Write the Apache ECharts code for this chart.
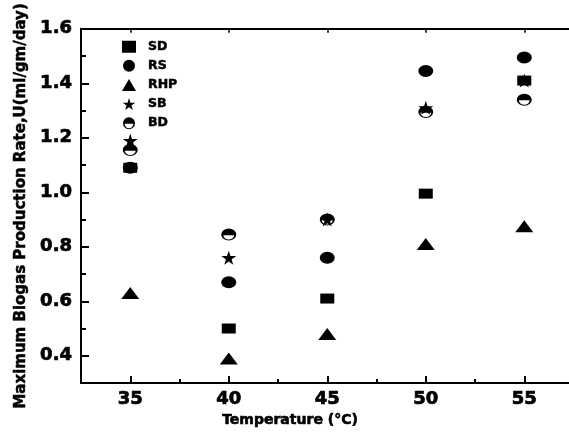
<!DOCTYPE html>
<html>
<head>
<meta charset="utf-8">
<script src="https://cdn.jsdelivr.net/npm/echarts@6/dist/echarts.min.js"></script>
<style>html,body{margin:0;padding:0;background:#fff}#c{width:569px;height:434px}</style>
</head>
<body>
<div id="c"></div>
<script>
const temperatures = [35, 40, 45, 50, 55];
const SD  = [1.09, 0.50, 0.61, 0.995, 1.41];
const RS  = [1.09, 0.67, 0.76, 1.445, 1.495];
const RHP = [0.63, 0.39, 0.48, 0.81, 0.875];
const SB  = [1.19, 0.76, 0.90, 1.31, 1.41];
const BD  = [1.155, 0.845, 0.90, 1.295, 1.34];
const xTicks = [35, 40, 45, 50, 55];
const xMinorTicks = [37.5, 42.5, 47.5, 52.5];
const yTicks = [0.4, 0.6, 0.8, 1.0, 1.2, 1.4, 1.6];
const yMinorTicks = [0.5, 0.7, 0.9, 1.1, 1.3, 1.5];

const FONT = 'DejaVu Sans';
const starPath = 'path://M50,0 L61,35 L98,35 L68,57 L79,91 L50,70 L21,91 L32,57 L2,35 L39,35 Z';
const bdPath = 'path://M0,10 A10,10 0 1,1 20,10 A10,10 0 1,1 0,10 Z M2.8,11.2 A7.2,7.2 0 0,0 17.2,11.2 Z';
const heavy = { textBorderColor: '#000', textBorderWidth: 0.7 };

function pairs(arr) { return temperatures.map((t, i) => [t, arr[i]]); }
function mk(name, data, symbol, size) {
  return { name, type: 'scatter', data: pairs(data), symbol, symbolSize: size,
    itemStyle: { color: '#000', opacity: 1 }, xAxisIndex: 0, yAxisIndex: 0, emphasis: { disabled: true } };
}

const chart = echarts.init(document.getElementById('c'), null, { renderer: 'canvas' });
// the original plot frame runs past the right edge of the picture (axis end clipped)
const xr = { min: 32.5, max: 57.27 };
const yr = { min: 0.3, max: 1.6 };
chart.setOption({
  animation: false,
  backgroundColor: '#fff',
  grid: { left: 81, right: 0, top: 27, height: 356, containLabel: false },
  legend: {
    orient: 'vertical', left: 117, top: 35, itemWidth: 14, itemHeight: 12, itemGap: 5.6,
    textStyle: { fontFamily: FONT, fontWeight: 'bold', fontSize: 12.5, color: '#000', padding: [0, 0, 0, 7], ...heavy, textBorderWidth: 0.5 },
    data: ['SD', 'RS', 'RHP', 'SB', 'BD']
  },
  xAxis: [
    { type: 'value', position: 'bottom', ...xr,
      name: 'Temperature (°C)', nameLocation: 'middle', nameGap: 25,
      nameTextStyle: { fontFamily: FONT, fontWeight: 'bold', fontSize: 14, color: '#000', padding: [0, 70, 0, 0], ...heavy, textBorderWidth: 0.6 },
      axisLine: { show: true, onZero: false, lineStyle: { color: '#000', width: 2 } },
      axisTick: { show: true, inside: true, length: 7, customValues: xTicks, lineStyle: { color: '#000', width: 2 } },
      axisLabel: { show: true, customValues: xTicks, margin: 7, fontFamily: FONT, fontWeight: 'bold', fontSize: 18, color: '#000', ...heavy },
      splitLine: { show: false } },
    { type: 'value', position: 'bottom', ...xr,
      axisLine: { show: false, onZero: false },
      axisTick: { show: true, inside: true, length: 4, customValues: xMinorTicks, lineStyle: { color: '#000', width: 2 } },
      axisLabel: { show: false }, splitLine: { show: false } },
    { type: 'value', position: 'top', ...xr,
      axisLine: { show: true, onZero: false, lineStyle: { color: '#000', width: 2 } },
      axisTick: { show: true, inside: true, length: 4, customValues: xTicks, lineStyle: { color: '#000', width: 1.5 } },
      axisLabel: { show: false }, splitLine: { show: false } }
  ],
  yAxis: [
    { type: 'value', position: 'left', ...yr,
      name: 'Maximum Biogas Production Rate,U(ml/gm/day)', nameLocation: 'middle', nameGap: 52,
      nameTextStyle: { fontFamily: FONT, fontWeight: 'bold', fontSize: 15, color: '#000', ...heavy, textBorderWidth: 0.5 },
      axisLine: { show: true, onZero: false, lineStyle: { color: '#000', width: 2 } },
      axisTick: { show: true, inside: true, length: 8, customValues: yTicks, lineStyle: { color: '#000', width: 2 } },
      axisLabel: { show: true, customValues: yTicks, margin: 9, fontFamily: FONT, fontWeight: 'bold', fontSize: 18, color: '#000', ...heavy,
        formatter: v => v.toFixed(1) },
      splitLine: { show: false } },
    { type: 'value', position: 'left', ...yr,
      axisLine: { show: false, onZero: false },
      axisTick: { show: true, inside: true, length: 5, customValues: yMinorTicks, lineStyle: { color: '#000', width: 2 } },
      axisLabel: { show: false }, splitLine: { show: false } }
  ],
  series: [
    mk('BD', BD, bdPath, [15, 12]),
    mk('SB', SB, starPath, [15, 14]),
    mk('RHP', RHP, 'triangle', [18, 12]),
    mk('RS', RS, 'circle', [15, 12]),
    mk('SD', SD, 'rect', [14, 10])
  ]
});
</script>
</body>
</html>
